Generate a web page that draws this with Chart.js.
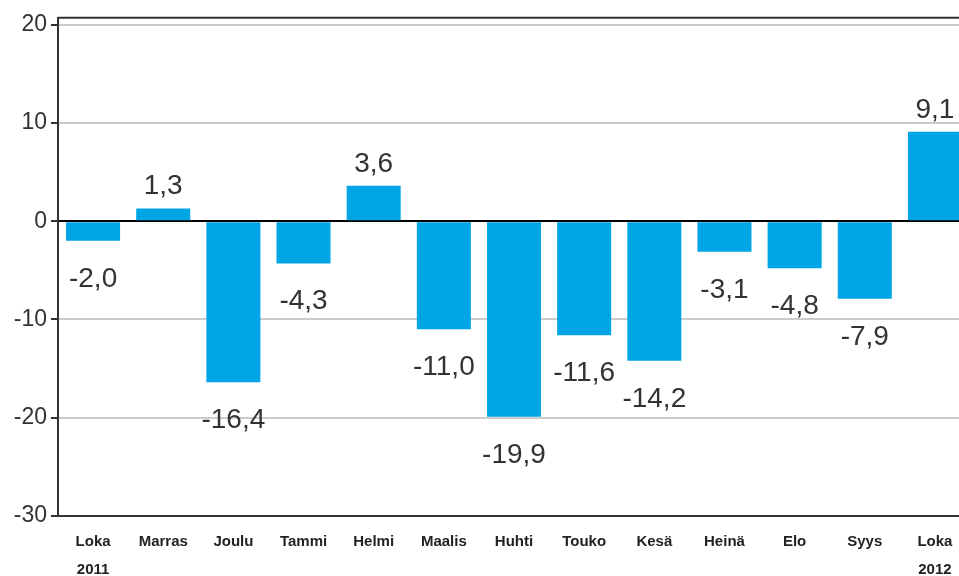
<!DOCTYPE html>
<html>
<head>
<meta charset="utf-8">
<script src="https://cdn.jsdelivr.net/npm/chart.js@4"></script>
<style>
  html, body { margin: 0; padding: 0; background: #fff; overflow: hidden; }
  #wrap { width: 970px; height: 576px; position: relative; }
</style>
</head>
<body>
<div id="wrap"><canvas id="chart"></canvas></div>
<script>
// Months (Oct 2011 - Oct 2012), year shown under first and last
const months = ['Loka', 'Marras', 'Joulu', 'Tammi', 'Helmi', 'Maalis', 'Huhti', 'Touko', 'Kesä', 'Heinä', 'Elo', 'Syys', 'Loka'];
const years = ['2011', '', '', '', '', '', '', '', '', '', '', '', '2012'];
const values = [-2.0, 1.3, -16.4, -4.3, 3.6, -11.0, -19.9, -11.6, -14.2, -3.1, -4.8, -7.9, 9.1];
const yTicks = [-30, -20, -10, 0, 10, 20];

const labels = months.map((m, i) => years[i] ? [m, years[i]] : m);

// Frame round the plot area (top edge visible in the original)
const framePlugin = {
  id: 'frame',
  afterDraw(chart) {
    const { ctx, chartArea: a } = chart;
    ctx.save();
    ctx.strokeStyle = '#333';
    ctx.lineWidth = 2;
    ctx.beginPath();
    ctx.moveTo(a.left, a.top);
    ctx.lineTo(a.right + 2, a.top);
    ctx.stroke();
    ctx.restore();
  }
};

// Value labels with comma decimals, above positive / below negative bars
const valueLabels = {
  id: 'valueLabels',
  afterDatasetsDraw(chart) {
    const { ctx } = chart;
    const meta = chart.getDatasetMeta(0);
    ctx.save();
    ctx.font = '28px "Liberation Sans", Arial, sans-serif';
    ctx.fillStyle = '#333';
    ctx.textAlign = 'center';
    ctx.textBaseline = 'alphabetic';
    meta.data.forEach((bar, i) => {
      const v = values[i];
      const txt = v.toFixed(1).replace('.', ',');
      const y = v >= 0 ? bar.y - 14 : bar.y + 46;
      ctx.fillText(txt, bar.x, y);
    });
    ctx.restore();
  }
};

const ctx = document.getElementById('chart').getContext('2d');
new Chart(ctx, {
  type: 'bar',
  data: {
    labels: labels,
    datasets: [{
      data: values,
      backgroundColor: '#00a5e5',
      borderWidth: 0,
      barPercentage: 0.77,
      categoryPercentage: 1.0,
    }],
  },
  options: {
    responsive: true,
    maintainAspectRatio: false,
    animation: false,
    layout: { padding: { top: 17, right: 0, left: 0, bottom: 0 } },
    plugins: {
      legend: { display: false },
      tooltip: { enabled: false },
    },
    scales: {
      x: {
        grid: { display: false, drawTicks: false },
        border: { display: true, color: '#333', width: 2 },
        ticks: {
          color: '#222',
          font: { family: '"Liberation Sans", Arial, sans-serif', size: 15, weight: 'bold', lineHeight: 1.85 },
          padding: 12,
          maxRotation: 0,
          autoSkip: false,
        },
        afterFit(scale) { scale.height = 60; },
      },
      y: {
        min: -30,
        max: 20.7,
        afterBuildTicks(scale) { scale.ticks = yTicks.map(v => ({ value: v })); },
        grid: {
          color: (c) => c.tick && c.tick.value === 0 ? '#000' : '#cccccc',
          lineWidth: 2,
          tickColor: '#333',
          tickLength: 7,
        },
        border: { display: true, color: '#333', width: 2 },
        ticks: {
          color: '#333',
          font: { family: '"Liberation Sans", Arial, sans-serif', size: 23 },
          padding: 4,
        },
        afterFit(scale) { scale.width = 58; },
      },
    },
  },
  plugins: [framePlugin, valueLabels],
});
</script>
</body>
</html>
